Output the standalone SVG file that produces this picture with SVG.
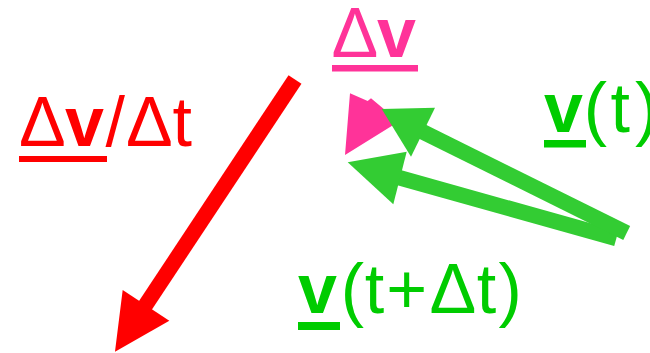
<svg xmlns="http://www.w3.org/2000/svg" width="650" height="353" viewBox="0 0 650 353">
<style>
text{font-family:"Liberation Sans",Arial,sans-serif;font-size:70px}
.b{font-weight:bold}
.red{fill:#ff0000}
.pink{fill:#ff3399}
.grn{fill:#00cc00}
.shaft{fill:none;stroke-linecap:butt}
</style>
<rect width="650" height="353" fill="#ffffff"/>
<g id="connectors">
  <g id="arrow-accel">
    <line class="shaft" x1="295" y1="79.5" x2="141" y2="312" stroke="#ff0000" stroke-width="15.5"/>
    <polygon points="115,351.7 122.7,290 169.3,320.7" fill="#ff0000"/>
  </g>
  <g id="arrow-dv">
    <polygon points="350,93.3 367.7,101 371,98.3 385,110 397.7,122.3 345,155" fill="#ff3399"/>
  </g>
  <g id="arrow-vt-dt">
    <line class="shaft" x1="616.3" y1="238.5" x2="395" y2="176.5" stroke="#33cc33" stroke-width="15.5"/>
    <polygon points="347.7,162.3 406.7,151.7 393.3,204.3" fill="#33cc33"/>
  </g>
  <g id="arrow-vt">
    <line class="shaft" x1="626.7" y1="233" x2="418" y2="129.5" stroke="#33cc33" stroke-width="15.5"/>
    <polygon points="381.7,109 435,107.7 411,156.7" fill="#33cc33"/>
  </g>
</g>
<g id="label-accel">
  <text y="146" class="red"><tspan x="19">Δ</tspan><tspan x="65" class="b">v</tspan><tspan x="105.5">/</tspan><tspan x="126">Δ</tspan><tspan x="172.5">t</tspan></text>
  <rect x="19" y="156" width="88" height="6" fill="#ff0000"/>
</g>
<g id="label-dv">
  <text y="57" class="pink"><tspan x="331.5">Δ</tspan><tspan x="377" class="b">v</tspan></text>
  <rect x="332" y="65" width="86" height="6.5" fill="#ff3399"/>
</g>
<g id="label-vt">
  <text y="132" class="grn"><tspan x="544" class="b">v</tspan><tspan x="583.8">(</tspan><tspan x="610.5">t</tspan><tspan x="635">)</tspan></text>
  <rect x="544" y="140" width="42" height="7.5" fill="#00cc00"/>
</g>
<g id="label-vtdt">
  <text y="313" class="grn"><tspan x="298" class="b">v</tspan><tspan x="340.8">(</tspan><tspan x="364.8">t</tspan><tspan x="386.2">+</tspan><tspan x="429.5">Δ</tspan><tspan x="476.8">t</tspan><tspan x="498.5">)</tspan></text>
  <rect x="298" y="322" width="42" height="8" fill="#00cc00"/>
</g>
</svg>
